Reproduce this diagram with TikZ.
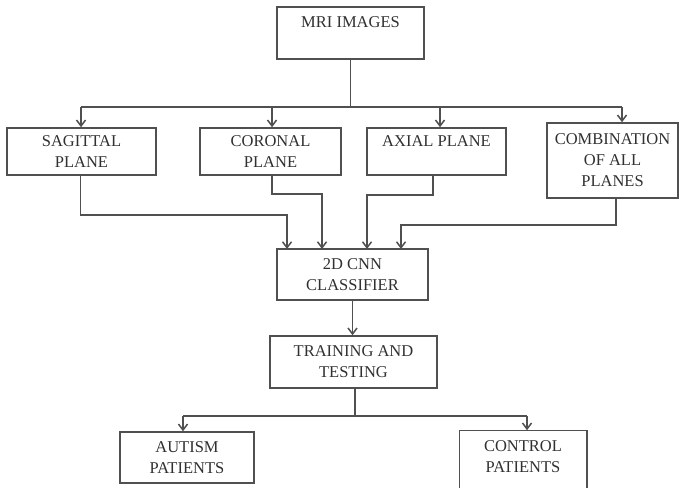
\documentclass[tikz,border=0pt]{standalone}
\usepackage{fontspec}
\setmainfont{Liberation Serif}
\usetikzlibrary{arrows.meta}
\definecolor{ink}{HTML}{303030}
\definecolor{wire}{HTML}{505050}
\begin{document}
\begin{tikzpicture}[x=1pt,y=-1pt,
  wireline/.style={draw=wire, line width=1.5pt},
  box/.style={wireline, text=ink, align=center, inner sep=0pt,
    font=\fontsize{16.5}{21}\selectfont},
  arr/.style={wireline, -{Straight Barb[length=6pt,width=9pt]}}]
\useasboundingbox (0,0) rectangle (679,487);

% boxes
\node[box, minimum width=147pt, minimum height=52pt] (mri) at (350.5,33) {MRI IMAGES\\\mbox{}};
\node[box, minimum width=149pt, minimum height=47pt] (sag) at (81.5,151.5) {SAGITTAL\\PLANE};
\node[box, minimum width=141pt, minimum height=47pt] (cor) at (270.5,151.5) {CORONAL\\PLANE};
\node[box, minimum width=139pt, minimum height=47pt] (axi) at (436.5,151.5) {AXIAL PLANE\\\mbox{}};
\node[box, minimum width=131pt, minimum height=75pt] (comb) at (612.5,160.5) {COMBINATION\\OF ALL\\PLANES};
\node[box, minimum width=151pt, minimum height=51pt] (cnn) at (352.5,274.5) {2D CNN\\CLASSIFIER};
\node[box, minimum width=167pt, minimum height=52pt] (trn) at (353.5,362) {TRAINING AND\\TESTING};
\node[box, minimum width=134pt, minimum height=51pt] (aut) at (187,457.5) {AUTISM\\PATIENTS};
\node[box, draw=none, minimum width=126pt, minimum height=51pt] (ctl) at (523,456.5) {CONTROL\\PATIENTS};
\draw[wireline] ([yshift=-14pt]ctl.south west) -- (ctl.north west)
  -- (ctl.north east) -- ([yshift=-14pt]ctl.south east);

% distribution bus below MRI IMAGES
\coordinate (busL) at (81,107);
\coordinate (busC) at (272,107);
\coordinate (busA) at (440,107);
\coordinate (busR) at (622,107);
\draw[wireline] (mri.south) -- (mri.south |- busL);
\draw[wireline] (busL) -- (busR);
\draw[arr] (busL) -- (busL |- sag.north);
\draw[arr] (busC) -- (busC |- cor.north);
\draw[arr] (busA) -- (busA |- axi.north);
\draw[arr] (busR) -- (busR |- comb.north);

% planes into the classifier
\coordinate (in1) at (287,249);
\coordinate (in2) at (322,249);
\coordinate (in3) at (367,249);
\coordinate (in4) at (401,249);
\draw[arr] ([xshift=-1pt]sag.south) -- ++(0,39) -| (in1);
\draw[arr] ([xshift=1.5pt]cor.south) -- ++(0,18) -| (in2);
\draw[arr] ([xshift=-3.5pt]axi.south) -- ++(0,19) -| (in3);
\draw[arr] ([xshift=3.5pt]comb.south) -- ++(0,26) -| (in4);

% classifier to training, training to outcomes
\draw[arr] (cnn.south) -- (cnn.south |- trn.north);
\coordinate (outL) at (183,416);
\coordinate (outR) at (527,416);
\draw[wireline] ([xshift=1.5pt]trn.south) -- ++(0,28);
\draw[wireline] (outL) -- (outR);
\draw[arr] (outL) -- (outL |- aut.north);
\draw[arr] (outR) -- (outR |- ctl.north);
\end{tikzpicture}
\end{document}
